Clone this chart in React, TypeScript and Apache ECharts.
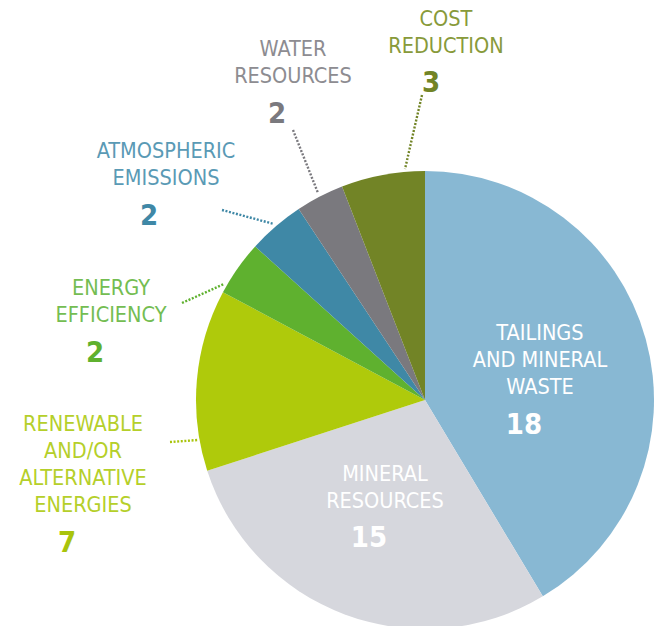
import React, { useEffect, useRef } from "react";
import * as echarts from "echarts";

// ---- data ----
const categories = [
  "TAILINGS\nAND MINERAL\nWASTE",
  "MINERAL\nRESOURCES",
  "RENEWABLE\nAND/OR\nALTERNATIVE\nENERGIES",
  "ENERGY\nEFFICIENCY",
  "ATMOSPHERIC\nEMISSIONS",
  "WATER\nRESOURCES",
  "COST\nREDUCTION",
];
// numbers printed on the chart
const counts = [18, 15, 7, 2, 2, 2, 3];
// slice sizes as drawn in the picture (percent of the circle)
const shares = [41.4, 28.6, 12.8, 3.9, 4.0, 3.4, 5.9];

// ---- styles ----
const sliceColors = ["#88b8d3", "#d6d7dd", "#afca0b", "#5fb12f", "#3f88a6", "#7a797e", "#728426"];
const textColors = ["#ffffff", "#ffffff", "#b5cf2a", "#74bd52", "#5a9ab5", "#8d8c91", "#889a3a"];
const numberColors = ["#ffffff", "#ffffff", "#a9c40c", "#5fb12f", "#3f88a6", "#7a797e", "#728426"];

// label block centres (text) and number centres
const textPos: [number, number][] = [
  [540, 359.5],
  [385, 486.5],
  [83, 464],
  [111, 301],
  [166, 163.5],
  [293, 61.5],
  [446, 31.5],
];
const numPos: [number, number][] = [
  [524, 424],
  [369, 537],
  [67, 542],
  [95, 352],
  [149, 215],
  [277, 113],
  [431, 82],
];
// leader lines (outside labels only)
const leaders: (null | [number, number, number, number])[] = [
  null,
  null,
  [170, 442, 198, 440],
  [182, 303, 224, 284],
  [222, 210, 274, 224],
  [293, 130, 318, 193],
  [422, 95, 405, 169],
];

const FONT = "'DejaVu Sans Condensed', 'Liberation Sans Narrow', 'Roboto', sans-serif";

export default function App() {
  const ref = useRef<HTMLDivElement>(null);
  useEffect(() => {
    if (!ref.current) return;
    const chart = echarts.init(ref.current, undefined, { renderer: "svg" });

    const graphics: any[] = [];
    categories.forEach((name, i) => {
      graphics.push({
        type: "text",
        x: textPos[i][0],
        y: textPos[i][1],
        silent: true,
        z: 10,
        style: {
          text: name,
          fill: textColors[i],
          font: `normal 21.5px ${FONT}`,
          lineHeight: 27,
          align: "center",
          verticalAlign: "middle",
        },
      });
      graphics.push({
        type: "text",
        x: numPos[i][0],
        y: numPos[i][1],
        silent: true,
        z: 10,
        style: {
          text: String(counts[i]),
          fill: numberColors[i],
          font: `bold 29px ${FONT}`,
          align: "center",
          verticalAlign: "middle",
        },
      });
      const l = leaders[i];
      if (l) {
        graphics.push({
          type: "line",
          silent: true,
          z: 5,
          shape: { x1: l[0], y1: l[1], x2: l[2], y2: l[3] },
          style: { stroke: numberColors[i], lineWidth: 2.4, lineDash: [2, 1.6] },
        });
      }
    });

    chart.setOption({
      animation: false,
      backgroundColor: "#ffffff",
      graphic: graphics,
      series: [
        {
          type: "pie",
          center: [425, 400],
          radius: 229,
          startAngle: 90,
          clockwise: true,
          silent: true,
          label: { show: false },
          labelLine: { show: false },
          data: categories.map((name, i) => ({
            name,
            value: shares[i],
            itemStyle: { color: sliceColors[i] },
          })),
        },
      ],
    });
    return () => chart.dispose();
  }, []);
  return (
    <div
      ref={ref}
      style={{ position: "fixed", left: 0, top: 0, width: 662, height: 626 }}
    />
  );
}
